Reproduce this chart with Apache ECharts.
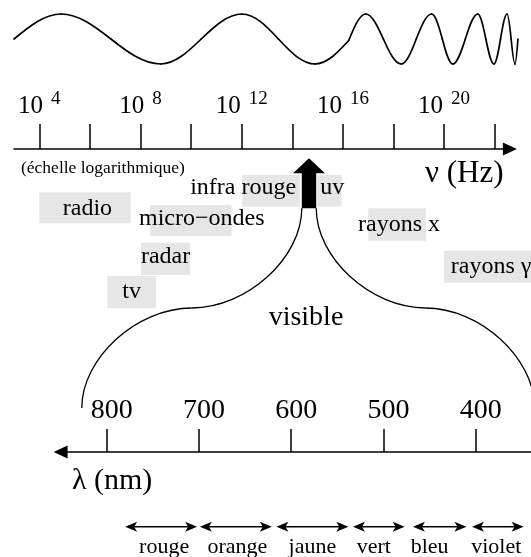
<!DOCTYPE html>
<html><head><meta charset="utf-8">
<script src="https://cdn.jsdelivr.net/npm/echarts@6/dist/echarts.min.js"></script>
<style>html,body{margin:0;padding:0;background:#fff}#c{width:531px;height:557px}</style>
</head><body><div id="c"></div>
<script>
// ---------------- data ----------------
// frequency axis (log10 of ν in Hz)
const freqTickExponents = [4, 6, 8, 10, 12, 14, 16, 18, 20, 22];
const freqLabelExponents = [4, 8, 12, 16, 20];
// illustrative wave (extrema and crossings), x in log10(ν)
const waveLongL  = [3.0, 4.86, 6.83, 8.80, 10.4, 12.01, 13.45, 14.90, 16.23];
const waveLongV  = [0,   1,    0,    -1,   0,    1,     0,     -1,    -0.06];
const waveShortL = [16.23, 16.90, 17.6, 18.30, 18.9, 19.51, 19.93, 20.34, 20.84, 21.33, 21.65, 21.97, 22.23, 22.49, 22.65, 22.8, 22.92];
const waveShortV = [-0.06, 1,     0,    -1,    0,    1,     0,     -1,    0,     1,     0,     -1,    0,     1,     0,     -1,   0];
// spectral domains (log10 ν ranges)
const domainNames = ['radio', 'micro−ondes', 'radar', 'tv', 'infra rouge', 'uv', 'rayons x', 'rayons γ'];
const domainStart = [4.0, 8.38, 8.02, 6.69, 12.02, 14.99, 17.0, 20.0];
const domainEnd   = [7.61, 11.6, 9.96, 8.61, 14.30, 15.95, 19.28, 23.44];
const visibleFreqExp = 14.66;
// wavelength axis (nm)
const wavelengthTicks = [800, 700, 600, 500, 400];
const colourNames = ['rouge', 'orange', 'jaune', 'vert', 'bleu', 'violet'];
const colourFrom  = [780, 699, 616, 533, 468, 404];
const colourTo    = [702, 621, 538, 477, 410, 348];
const visibleEnds = [827, 336];

// ---------------- layout ----------------
const W = 531, H = 557;
const FONT = "'Liberation Serif', 'Times New Roman', serif";
const X4 = 39.3, PXD = 25.3;            // px of 10^4, px per decade
const fx = L => X4 + (L - 4) * PXD;
const fMin = 3, fMax = 22.6, wMax = 23.43;
const AXIS_Y = 149;
const LX800 = 106.7, PXNM = 0.92255;    // px of 800 nm, px per nm
const lx = l => LX800 + (800 - l) * PXNM;
const lMin = 340, lMax = 850;
const L_AXIS_Y = 452;
const domainBoxTop    = [192.3, 205, 242.7, 276, 175, 175, 208.3, 250.7];
const domainBoxBottom = [223.3, 236, 275, 308.3, 206.7, 206.7, 240.7, 282.7];
const domainTextDx    = [2.5, 10.9, 0, 0, -27.9, 2.8, 2, 3.5];
const domainTextBase  = [216.7, 226.7, 265, 300, 196, 196, 233.3, 275];
const colourTextDx    = [3, 1.6, 0, -5, -10, -1.5];
const BAND_Y = 526.7, BAND_TEXT_BASE = 555;
const mid = (base, fs) => base - 0.3375 * fs;

// wave segments: consecutive pairs of read points
function segs(Ls, Vs) {
  const out = [];
  for (let i = 0; i < Ls.length - 1; i++) out.push([Ls[i], Vs[i], Ls[i + 1], Vs[i + 1]]);
  return out;
}
const waveSegments = segs(waveLongL, waveLongV).concat(segs(waveShortL, waveShortV));

const chart = echarts.init(document.getElementById('c'), null, {renderer: 'canvas'});

const option = {
  animation: false,
  backgroundColor: '#fff',
  grid: [
    {left: fx(fMin), right: W - fx(fMax), top: 0, height: AXIS_Y},
    {left: fx(fMin), right: W - fx(wMax), top: 14, height: 50},
    {left: lx(lMax), right: W - lx(lMin), top: 400, bottom: H - L_AXIS_Y}
  ],
  xAxis: [
    {
      gridIndex: 0, type: 'value', min: fMin, max: fMax,
      axisLine: {show: true, symbol: ['none', 'triangle'], symbolSize: [13, 14],
                 lineStyle: {color: '#000', width: 1.5}},
      axisTick: {show: true, inside: true, length: 25, customValues: freqTickExponents,
                 lineStyle: {color: '#000', width: 1.5}},
      axisLabel: {
        show: true, inside: true, margin: 26, customValues: freqLabelExponents,
        formatter: v => '{b|10}{s|' + v + '}',
        rich: {
          b: {fontSize: 25, fontFamily: FONT, color: '#000', lineHeight: 33},
          s: {fontSize: 19, fontFamily: FONT, color: '#000', lineHeight: 14, verticalAlign: 'top', padding: [0, 0, 0, 8]}
        }
      },
      splitLine: {show: false}
    },
    {gridIndex: 1, type: 'value', min: fMin, max: wMax, show: false},
    {
      gridIndex: 2, type: 'value', min: lMin, max: lMax, inverse: true,
      axisLine: {show: true, symbol: ['triangle', 'none'], symbolSize: [13, 14],
                 lineStyle: {color: '#000', width: 1.5}},
      axisTick: {show: true, inside: true, length: 23, customValues: wavelengthTicks,
                 lineStyle: {color: '#000', width: 1.5}},
      axisLabel: {show: true, inside: true, margin: 27, customValues: wavelengthTicks,
                  fontSize: 28, fontFamily: FONT, color: '#000', lineHeight: 28,
                  padding: [0, 0, 0, 10]},
      splitLine: {show: false}
    }
  ],
  yAxis: [
    {gridIndex: 0, type: 'value', min: 0, max: 1, show: false},
    {gridIndex: 1, type: 'value', min: -1, max: 1, show: false},
    {gridIndex: 2, type: 'value', min: 0, max: 1, show: false}
  ],
  series: [
    {
      type: 'custom', xAxisIndex: 1, yAxisIndex: 1, clip: false, silent: true, z: 2,
      data: waveSegments,
      renderItem: (params, api) => {
        const a = api.coord([api.value(0), api.value(1)]);
        const b = api.coord([api.value(2), api.value(3)]);
        const aExt = Math.abs(api.value(1)) > 0.9, bExt = Math.abs(api.value(3)) > 0.9;
        const dx = b[0] - a[0];
        const s = (Math.PI / 2) * (b[1] - a[1]) / dx;
        const cp1 = aExt ? [a[0] + 0.35 * dx, a[1]] : [a[0] + 0.326 * dx, a[1] + 0.326 * dx * s];
        const cp2 = bExt ? [b[0] - 0.35 * dx, b[1]] : [b[0] - 0.326 * dx, b[1] - 0.326 * dx * s];
        return {type: 'bezierCurve',
          shape: {x1: a[0], y1: a[1], cpx1: cp1[0], cpy1: cp1[1], cpx2: cp2[0], cpy2: cp2[1], x2: b[0], y2: b[1]},
          style: {stroke: '#000', lineWidth: 1.7, fill: null, lineCap: 'round'}};
      }
    },
    {
      type: 'custom', xAxisIndex: 0, yAxisIndex: 0, clip: false, silent: true, z: 3,
      data: domainNames.map((n, i) => [domainStart[i], domainEnd[i], i]),
      renderItem: (params, api) => {
        const i = api.value(2);
        const x1 = api.coord([api.value(0), 0])[0];
        const x2 = api.coord([api.value(1), 0])[0];
        return {type: 'group', children: [
          {type: 'rect', shape: {x: x1, y: domainBoxTop[i], width: x2 - x1, height: domainBoxBottom[i] - domainBoxTop[i]},
           style: {fill: '#e6e6e6'}},
          {type: 'text', z2: 10, style: {text: domainNames[i], x: (x1 + x2) / 2 + domainTextDx[i], y: mid(domainTextBase[i], 24),
           font: '24px ' + FONT, fill: '#000', align: 'center', verticalAlign: 'middle'}}
        ]};
      }
    },
    {
      type: 'custom', xAxisIndex: 0, yAxisIndex: 0, clip: false, silent: true, z: 5,
      data: [[visibleFreqExp]],
      renderItem: (params, api) => {
        const x = api.coord([api.value(0), 0])[0];
        return {type: 'group', children: [
          {type: 'polygon', shape: {points: [[x, 158.3], [x + 16, 173.3], [x + 7.2, 173.3], [x + 7.2, 208.3],
                                             [x - 7.2, 208.3], [x - 7.2, 173.3], [x - 16, 173.3]]},
           style: {fill: '#000'}}
        ]};
      }
    },
    {
      type: 'custom', xAxisIndex: 2, yAxisIndex: 2, clip: false, silent: true, z: 3,
      data: colourNames.map((n, i) => [colourFrom[i], colourTo[i], i]),
      renderItem: (params, api) => {
        const i = api.value(2);
        const x1 = api.coord([api.value(0), 0])[0];
        const x2 = api.coord([api.value(1), 0])[0];
        const y = BAND_Y, hl = 12, hw = 5;
        return {type: 'group', children: [
          {type: 'line', shape: {x1: x1 + 6, y1: y, x2: x2 - 6, y2: y}, style: {stroke: '#000', lineWidth: 1.5}},
          {type: 'polygon', shape: {points: [[x1, y], [x1 + hl, y - hw], [x1 + hl - 3, y], [x1 + hl, y + hw]]}, style: {fill: '#000'}},
          {type: 'polygon', shape: {points: [[x2, y], [x2 - hl, y - hw], [x2 - hl + 3, y], [x2 - hl, y + hw]]}, style: {fill: '#000'}},
          {type: 'text', style: {text: colourNames[i], x: (x1 + x2) / 2 + colourTextDx[i], y: mid(BAND_TEXT_BASE, 22),
           font: '22px ' + FONT, fill: '#000', align: 'center', verticalAlign: 'middle'}}
        ]};
      }
    }
  ],
  graphic: [
    {type: 'text', style: {text: '(échelle logarithmique)', x: 21, y: mid(174, 17.5), font: '17.5px ' + FONT, fill: '#000', align: 'left', verticalAlign: 'middle'}},
    {type: 'text', style: {text: 'ν (Hz)', x: 425, y: mid(184, 31), font: '31px ' + FONT, fill: '#000', align: 'left', verticalAlign: 'middle'}},
    {type: 'text', style: {text: 'visible', x: 306, y: mid(327, 28), font: '28px ' + FONT, fill: '#000', align: 'center', verticalAlign: 'middle'}},
    {type: 'text', style: {text: 'λ (nm)', x: 72, y: mid(491, 30), font: '30px ' + FONT, fill: '#000', align: 'left', verticalAlign: 'middle'}}
  ]
};
chart.setOption(option);

// brace linking the visible arrow to the wavelength scale
const xa = chart.convertToPixel({xAxisIndex: 0}, visibleFreqExp);
const xbL = chart.convertToPixel({xAxisIndex: 2}, visibleEnds[0]);
const xbR = chart.convertToPixel({xAxisIndex: 2}, visibleEnds[1]);
const yT = 208.3, yM = 308, yB = 408, K = 0.5;
function half(xt, xb) {
  const mx = (xt + xb) / 2;
  return [
    {type: 'bezierCurve', shape: {x1: xt, y1: yT, cpx1: xt, cpy1: yT + K * (yM - yT), cpx2: mx + K * (xt - mx), cpy2: yM, x2: mx, y2: yM},
     style: {stroke: '#000', lineWidth: 1.3, fill: null}},
    {type: 'bezierCurve', shape: {x1: mx, y1: yM, cpx1: mx + K * (xb - mx), cpy1: yM, cpx2: xb, cpy2: yB - K * (yB - yM), x2: xb, y2: yB},
     style: {stroke: '#000', lineWidth: 1.3, fill: null}}
  ];
}
chart.setOption({graphic: option.graphic.concat(half(xa - 7.2, xbL), half(xa + 7.2, xbR))});
</script>
</body></html>
